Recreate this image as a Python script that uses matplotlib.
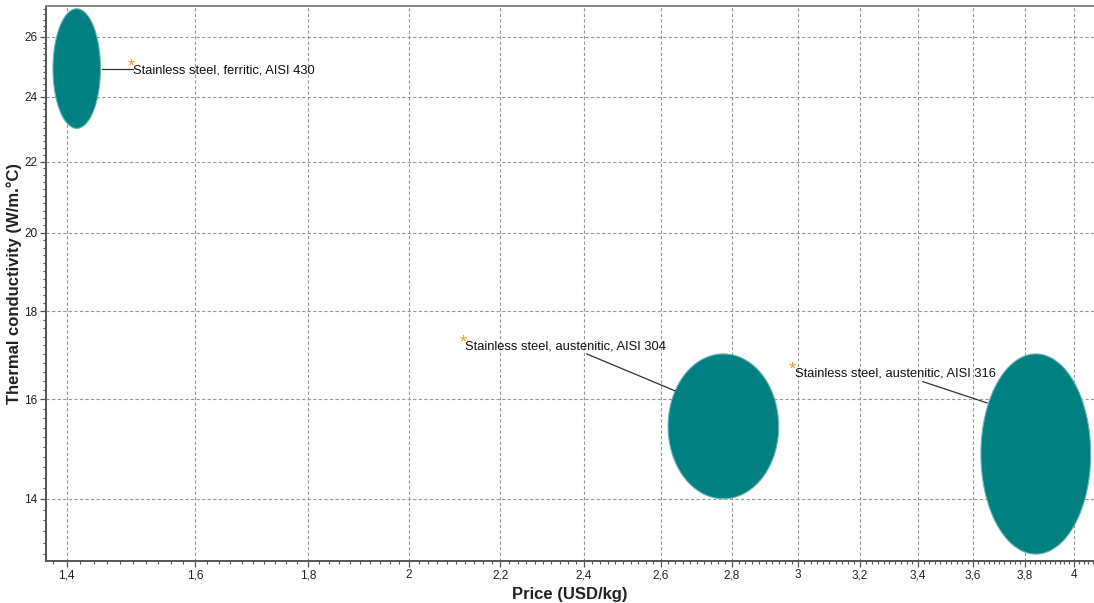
import numpy as np
import matplotlib
matplotlib.use("Agg")
import matplotlib.pyplot as plt
from matplotlib.patches import Polygon
from matplotlib.ticker import FixedLocator, MultipleLocator, FuncFormatter

plt.rcParams['font.family'] = ['Liberation Sans', 'DejaVu Sans']

# Material property ranges (price in USD/kg, thermal conductivity in W/m.°C)
materials = [
    "Stainless steel, ferritic, AISI 430",
    "Stainless steel, austenitic, AISI 304",
    "Stainless steel, austenitic, AISI 316",
]
price_low = [1.38, 2.62, 3.63]
price_high = [1.45, 2.94, 4.07]
cond_low = [23.0, 14.0, 13.0]
cond_high = [27.0, 17.0, 17.0]

# Label anchor (text left, text centre) and leader line endpoints
label_x = [1.50, 2.12, 2.99]
label_y = [24.85, 17.18, 16.55]
leader_from = [(1.452, 24.92), (2.407, 17.0), (3.417, 16.38)]
leader_to = [(1.50, 24.92), (2.639, 16.18), (3.653, 15.92)]

x_ticks = [1.4, 1.6, 1.8, 2.0, 2.2, 2.4, 2.6, 2.8, 3.0, 3.2, 3.4, 3.6, 3.8, 4.0]
y_ticks = [14, 16, 18, 20, 22, 24, 26]

fill_color = "#008080"
edge_color = "#6fb3b3"
axis_color = "#555555"

fig = plt.figure(figsize=(10.94, 6.03), dpi=100)
ax = fig.add_axes([46 / 1094, 42 / 603, 1048 / 1094, 555 / 603])
ax.set_xscale("log")
ax.set_yscale("log")
ax.set_xlim(1.37, 4.084)
ax.set_ylim(12.88, 27.1)

# Ellipses defined in log space so they look like ellipses on log axes
t = np.linspace(0, 2 * np.pi, 300)
for lo_x, hi_x, lo_y, hi_y in zip(price_low, price_high, cond_low, cond_high):
    cx = 0.5 * (np.log(lo_x) + np.log(hi_x))
    rx = 0.5 * (np.log(hi_x) - np.log(lo_x))
    cy = 0.5 * (np.log(lo_y) + np.log(hi_y))
    ry = 0.5 * (np.log(hi_y) - np.log(lo_y))
    xs = np.exp(cx + rx * np.cos(t))
    ys = np.exp(cy + ry * np.sin(t))
    ax.add_patch(Polygon(np.column_stack([xs, ys]), closed=True,
                         facecolor=fill_color, edgecolor=edge_color,
                         linewidth=0.8, zorder=3))

for name, lx, ly, p0, p1 in zip(materials, label_x, label_y, leader_from, leader_to):
    ax.plot([p0[0], p1[0]], [p0[1], p1[1]], color="#333333", lw=0.9, zorder=4)
    ax.text(lx, ly, name, fontsize=9.3, color="#111111", ha="left", va="center", zorder=5)
    ax.annotate("*", xy=(lx, ly), xytext=(-1.5, 2.5), textcoords="offset points",
                color="#f0a020", fontsize=13, ha="center", va="center", zorder=5)

def comma_fmt(v, pos):
    s = f"{v:g}"
    return s.replace(".", ",")

ax.xaxis.set_major_locator(FixedLocator(x_ticks))
ax.yaxis.set_major_locator(FixedLocator(y_ticks))
ax.xaxis.set_major_formatter(FuncFormatter(comma_fmt))
ax.yaxis.set_major_formatter(FuncFormatter(comma_fmt))
ax.xaxis.set_minor_locator(MultipleLocator(0.02))
ax.yaxis.set_minor_locator(MultipleLocator(0.2))
ax.xaxis.set_minor_formatter(FuncFormatter(lambda v, p: ""))
ax.yaxis.set_minor_formatter(FuncFormatter(lambda v, p: ""))

ax.tick_params(axis="both", which="major", direction="out", length=4,
               width=0.9, color=axis_color, labelsize=8.5, labelcolor="#222222", pad=2)
ax.tick_params(axis="both", which="minor", direction="out", length=2.5,
               width=0.8, color=axis_color)

ax.grid(True, which="major", linestyle=(0, (3, 2)), color="#9a9a9a", linewidth=0.8)
ax.set_axisbelow(True)

for side in ["left", "bottom"]:
    ax.spines[side].set_color(axis_color)
    ax.spines[side].set_linewidth(1.4)
ax.spines["top"].set_color("#888888")
ax.spines["top"].set_linewidth(1.4)
ax.spines["right"].set_visible(False)

ax.set_xlabel("Price (USD/kg)", fontsize=12, fontweight="bold", color="#222222", labelpad=4)
ax.set_ylabel("Thermal conductivity (W/m.°C)", fontsize=12, fontweight="bold",
              color="#222222", labelpad=2)

fig.savefig("out.png", dpi=100)
